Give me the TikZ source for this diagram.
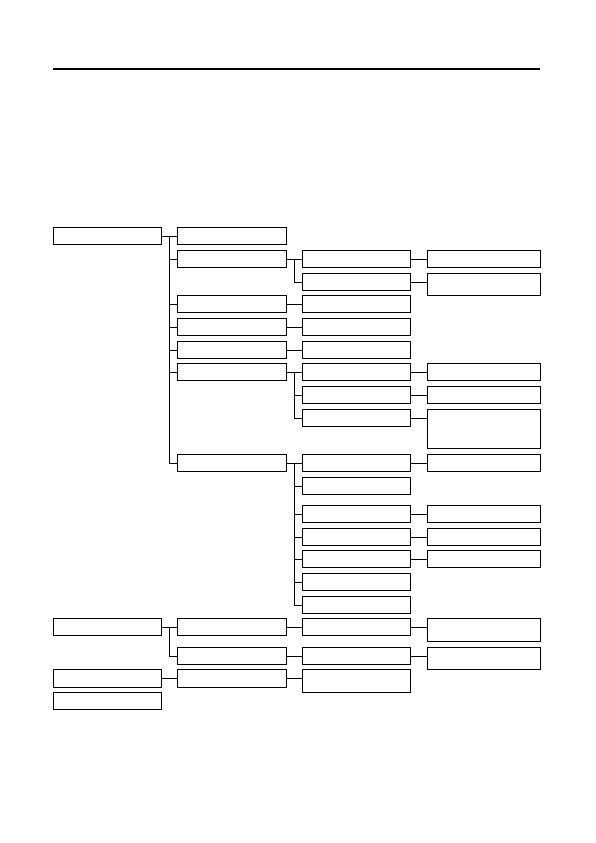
\documentclass[tikz,border=0pt]{standalone}
\begin{document}
\begin{tikzpicture}[x=1pt, y=-1pt, line width=1pt,
    box/.style={draw, anchor=north west, inner sep=0pt, minimum height=17pt},
    boxa/.style={box, minimum width=108pt},
    boxb/.style={box, minimum width=108.5pt},
    boxc/.style={box, minimum width=108pt},
    boxd/.style={box, minimum width=113pt}]
    % Page area (595 x 843)
    \useasboundingbox (0, 0) rectangle (595, 843);

    % Rule at the top of the page
    \draw[line width=1.2pt] (53, 69) -- (540, 69);

    % First column
    \node[boxa] (A1) at (53.3, 227.3) {};
    \node[boxa] (Q1) at (53.3, 618.3) {};
    \node[boxa, minimum height=18pt] (S1) at (53.3, 669.3) {};
    \node[boxa] (T1) at (53.3, 692.3) {};

    % Second column
    \node[boxb] (A2) at (177.3, 227.3) {};
    \node[boxb] (B2) at (177.3, 250.3) {};
    \node[boxb] (D2) at (177.3, 295.3) {};
    \node[boxb] (E2) at (177.3, 318.3) {};
    \node[boxb] (F2) at (177.3, 341.3) {};
    \node[boxb] (G2) at (177.3, 363.3) {};
    \node[boxb] (J2) at (177.3, 454.3) {};
    \node[boxb] (Q2) at (177.3, 618.3) {};
    \node[boxb] (R2) at (177.3, 647.3) {};
    \node[boxb, minimum height=18pt] (S2) at (177.3, 669.3) {};

    % Third column
    \node[boxc] (B3) at (302.3, 250.3) {};
    \node[boxc] (C3) at (302.3, 273.3) {};
    \node[boxc] (D3) at (302.3, 295.3) {};
    \node[boxc] (E3) at (302.3, 318.3) {};
    \node[boxc] (F3) at (302.3, 341.3) {};
    \node[boxc] (G3) at (302.3, 363.3) {};
    \node[boxc] (H3) at (302.3, 386.3) {};
    \node[boxc] (I3) at (302.3, 409.3) {};
    \node[boxc] (J3) at (302.3, 454.3) {};
    \node[boxc] (K3) at (302.3, 477.3) {};
    \node[boxc] (L3) at (302.3, 505.3) {};
    \node[boxc] (M3) at (302.3, 528.3) {};
    \node[boxc] (N3) at (302.3, 550.3) {};
    \node[boxc] (O3) at (302.3, 573.3) {};
    \node[boxc] (P3) at (302.3, 596.3) {};
    \node[boxc] (Q3) at (302.3, 618.3) {};
    \node[boxc] (R3) at (302.3, 647.3) {};
    \node[boxc, minimum height=23pt] (S3) at (302.3, 669.3) {};

    % Fourth column
    \node[boxd] (B4) at (427.3, 250.3) {};
    \node[boxd, minimum height=22pt] (C4) at (427.3, 273.3) {};
    \node[boxd] (G4) at (427.3, 363.3) {};
    \node[boxd] (H4) at (427.3, 386.3) {};
    \node[boxd, minimum height=39pt] (I4) at (427.3, 409.3) {};
    \node[boxd] (J4) at (427.3, 454.3) {};
    \node[boxd] (L4) at (427.3, 505.3) {};
    \node[boxd] (M4) at (427.3, 528.3) {};
    \node[boxd] (N4) at (427.3, 550.3) {};
    \node[boxd, minimum height=23pt] (Q4) at (427.3, 618.3) {};
    \node[boxd, minimum height=22pt] (R4) at (427.3, 647.3) {};

    % Branches from the first column
    \draw (A1.east) -- (A2.west);
    \foreach \n in {B, D, E, F, G, J}
        \draw (A1.east) ++(7, 0) |- (\n2.west);
    \draw (Q1.east) -- (Q2.west);
    \draw (Q1.east) ++(7, 0) |- (R2.west);
    \draw (S1.east) -- (S2.west);

    % Branches from the second column
    \draw (B2.east) -- (B3.west);
    \draw (B2.east) ++(7.5, 0) |- (C3.west);
    \foreach \n in {D, E, F, Q, R}
        \draw (\n2.east) -- (\n3.west);
    \draw (S2.east) -- (S2.east -| S3.west);
    \draw (G2.east) -- (G3.west);
    \foreach \n in {H, I}
        \draw (G2.east) ++(7.5, 0) |- (\n3.west);
    \draw (J2.east) -- (J3.west);
    \foreach \n in {K, L, M, N, O, P}
        \draw (J2.east) ++(7.5, 0) |- (\n3.west);

    % Branches from the third column
    \foreach \n in {B, C, G, H, I, J, L, M, N, Q, R}
        \draw (\n3.east) -- (\n3.east -| \n4.west);
\end{tikzpicture}
\end{document}
